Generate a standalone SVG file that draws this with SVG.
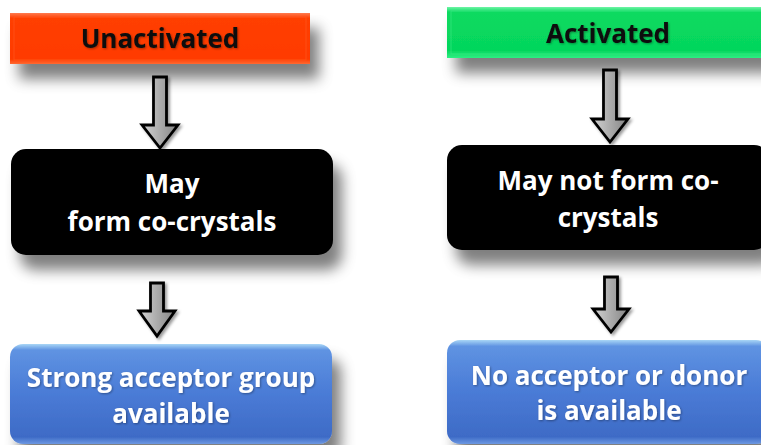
<svg xmlns="http://www.w3.org/2000/svg" width="761" height="445" viewBox="0 0 761 445">
  <defs>
    <style>
      .lbl { font-family: "Open Sans", "Liberation Sans", sans-serif; font-weight: 700; font-size: 26px; text-anchor: middle; }
      .dark { fill: #111111; }
      .light { fill: #ffffff; }
      .arrow { fill: url(#arrowFill); stroke: #000000; stroke-width: 2.8; stroke-linejoin: miter; filter: url(#arrowShadow); }
    </style>
    <filter id="boxShadow" x="-10%" y="-25%" width="135%" height="190%">
      <feGaussianBlur in="SourceAlpha" stdDeviation="7"/>
      <feOffset dx="9" dy="15" result="b"/>
      <feFlood flood-color="#000000" flood-opacity="0.5"/>
      <feComposite in2="b" operator="in"/>
      <feMerge><feMergeNode/><feMergeNode in="SourceGraphic"/></feMerge>
    </filter>
    <filter id="arrowShadow" x="-50%" y="-20%" width="200%" height="140%">
      <feGaussianBlur in="SourceAlpha" stdDeviation="1.5"/>
      <feOffset dx="1.5" dy="1.5" result="b"/>
      <feFlood flood-color="#000000" flood-opacity="0.4"/>
      <feComposite in2="b" operator="in"/>
      <feMerge><feMergeNode/><feMergeNode in="SourceGraphic"/></feMerge>
    </filter>
    <filter id="textShadow" x="-5%" y="-20%" width="110%" height="140%">
      <feGaussianBlur in="SourceAlpha" stdDeviation="0.8"/>
      <feOffset dx="1" dy="1" result="b"/>
      <feFlood flood-color="#000000" flood-opacity="0.35"/>
      <feComposite in2="b" operator="in"/>
      <feMerge><feMergeNode/><feMergeNode in="SourceGraphic"/></feMerge>
    </filter>
    <linearGradient id="arrowFill" x1="0" y1="0" x2="1" y2="0">
      <stop offset="0" stop-color="#d4d4d4"/>
      <stop offset="0.5" stop-color="#ababab"/>
      <stop offset="1" stop-color="#848484"/>
    </linearGradient>
    <linearGradient id="blueFill" x1="0" y1="0" x2="0" y2="1">
      <stop offset="0" stop-color="#a9d6f6"/>
      <stop offset="0.06" stop-color="#5f93e2"/>
      <stop offset="0.5" stop-color="#4a7bd6"/>
      <stop offset="0.93" stop-color="#3e6bc6"/>
      <stop offset="1" stop-color="#6d98e2"/>
    </linearGradient>
    <linearGradient id="orangeFill" x1="0" y1="0" x2="0" y2="1">
      <stop offset="0" stop-color="#ff7b4f"/>
      <stop offset="0.1" stop-color="#ff3f04"/>
      <stop offset="0.9" stop-color="#ff3a00"/>
      <stop offset="1" stop-color="#ff6a33"/>
    </linearGradient>
    <linearGradient id="greenFill" x1="0" y1="0" x2="0" y2="1">
      <stop offset="0" stop-color="#6ff5a6"/>
      <stop offset="0.1" stop-color="#0ada60"/>
      <stop offset="0.85" stop-color="#05d65c"/>
      <stop offset="1" stop-color="#2ff083"/>
    </linearGradient>
  </defs>

  <rect width="761" height="445" fill="#ffffff"/>

  <!-- left column -->
  <g id="unactivated">
    <rect x="10" y="13" width="300" height="51" fill="url(#orangeFill)" filter="url(#boxShadow)"/>
    <rect x="14" y="17" width="292" height="43" fill="none" stroke="#ff5a22" stroke-width="1" opacity="0.6"/>
    <text class="lbl dark" x="160" y="48" filter="url(#textShadow)">Unactivated</text>
  </g>

  <g id="may-form">
    <rect x="11" y="149" width="322" height="106" rx="15" fill="#000000" filter="url(#boxShadow)"/>
    <text class="lbl light" x="172" y="193">May</text>
    <text class="lbl light" x="172" y="231">form co-crystals</text>
  </g>

  <g id="strong-acceptor">
    <rect x="10" y="344" width="322" height="100" rx="13" fill="url(#blueFill)" filter="url(#boxShadow)"/>
    <text class="lbl light" x="171" y="387" filter="url(#textShadow)">Strong acceptor group</text>
    <text class="lbl light" x="171" y="423" filter="url(#textShadow)">available</text>
  </g>

  <!-- right column -->
  <g id="activated">
    <rect x="447" y="7" width="322" height="51" fill="url(#greenFill)" filter="url(#boxShadow)"/>
    <rect x="451" y="11" width="314" height="43" fill="none" stroke="#3cea86" stroke-width="1" opacity="0.6"/>
    <text class="lbl dark" x="608" y="43" filter="url(#textShadow)">Activated</text>
  </g>

  <g id="may-not-form">
    <rect x="447" y="145" width="322" height="105" rx="15" fill="#000000" filter="url(#boxShadow)"/>
    <text class="lbl light" x="608" y="190">May not form co-</text>
    <text class="lbl light" x="608" y="227">crystals</text>
  </g>

  <g id="no-acceptor">
    <rect x="447" y="340" width="322" height="104" rx="13" fill="url(#blueFill)" filter="url(#boxShadow)"/>
    <text class="lbl light" x="609" y="385" filter="url(#textShadow)">No acceptor or donor</text>
    <text class="lbl light" x="609" y="420" filter="url(#textShadow)">is available</text>
  </g>

  <!-- block arrows -->
  <g id="connectors">
    <polygon class="arrow" points="153.5,77 166.5,77 166.5,125 178,125 160,148 142,125 153.5,125"/>
    <polygon class="arrow" points="150.5,283 163.5,283 163.5,311 175,311 157,336 139,311 150.5,311"/>
    <polygon class="arrow" points="603.5,70 616.5,70 616.5,119 628,119 610,142 592,119 603.5,119"/>
    <polygon class="arrow" points="604.5,277 617.5,277 617.5,309 629,309 611,332 593,309 604.5,309"/>
  </g>
</svg>
